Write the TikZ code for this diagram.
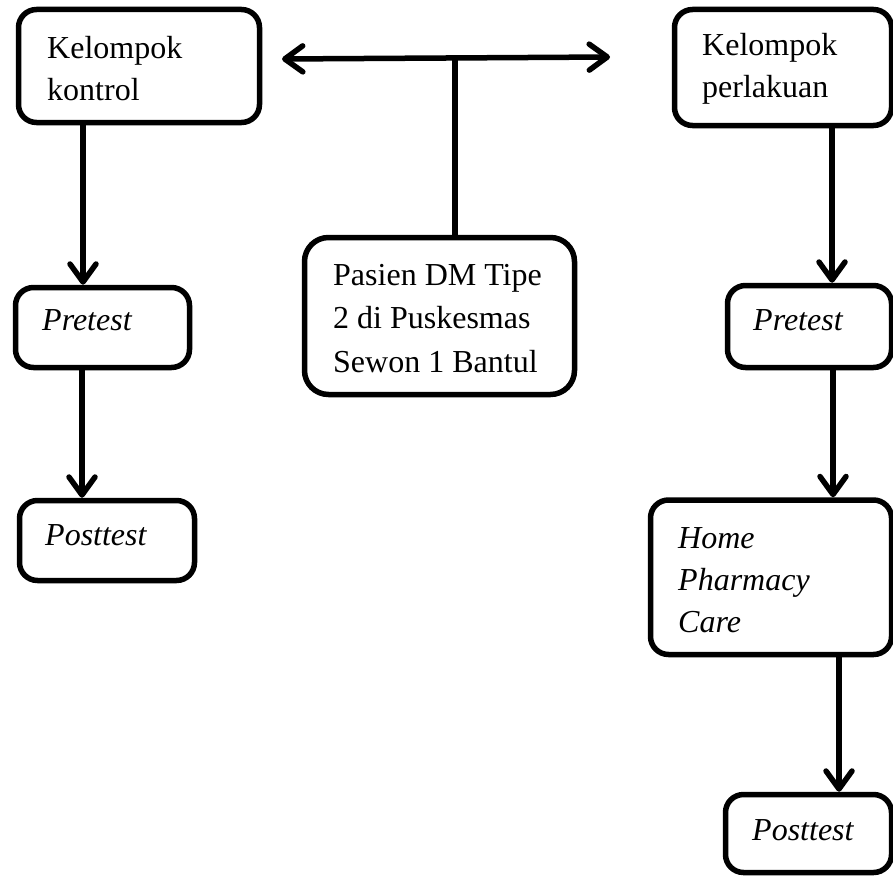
\documentclass[tikz,border=0pt]{standalone}
\usepackage{fontspec}
\setmainfont{Liberation Serif}
\usetikzlibrary{arrows.meta}
\begin{document}
\begin{tikzpicture}[x=1pt,y=-1pt,
  box/.style={draw=black, line width=5.5pt, rounded corners=18pt, inner sep=0pt, fill=white},
  txt/.style={inner sep=0pt, anchor=base west, align=left, font=\fontsize{32}{42}\selectfont},
  itxt/.style={txt, font=\fontsize{32}{42}\selectfont\itshape},
  tip/.style={Straight Barb[length=18pt,width=26pt,round]},
  arr/.style={line width=5.5pt, -{Straight Barb[length=18pt,width=26pt,round]}},
  dbl/.style={line width=5.5pt, {Straight Barb[length=18pt,width=26pt,round]}-{Straight Barb[length=18pt,width=26pt,round]}},
  conn/.style={line width=5.5pt}]
\useasboundingbox (0,0) rectangle (893,875);
\clip (0,0) rectangle (893,875);
% boxes
\node[box, minimum width=241pt, minimum height=113pt] (kk) at (139,66) {};
\node[box, minimum width=217pt, minimum height=116pt] (kp) at (783,67.5) {};
\node[box, minimum width=174pt, minimum height=80pt] (pl) at (102.5,327.5) {};
\node[box, minimum width=175pt, minimum height=80pt] (ql) at (107,540.5) {};
\node[box, minimum width=270pt, minimum height=157pt, rounded corners=24pt] (ps) at (439.5,316) {};
\node[box, minimum width=164pt, minimum height=82pt] (pr) at (809.5,326.5) {};
\node[box, minimum width=241pt, minimum height=154.5pt] (hp) at (771,577.25) {};
\node[box, minimum width=166pt, minimum height=78pt] (qr) at (808.5,833.5) {};
% texts (anchor = baseline of last line)
\node[txt] (t1) at (47,100) {Kelompok\\kontrol};
\node[txt] (t2) at (702,97) {Kelompok\\perlakuan};
\node[itxt] (t3) at (42,330) {Pretest};
\node[itxt] (t4) at (45,545) {Posttest};
\node[txt, font=\fontsize{32}{43.5}\selectfont] (t5) at (333,372) {Pasien DM Tipe\\2 di Puskesmas\\Sewon 1 Bantul};
\node[itxt] (t6) at (753,330) {Pretest};
\node[itxt] (t7) at (678,632) {Home\\Pharmacy\\Care};
\node[itxt] (t8) at (752,840) {Posttest};
% connectors
\coordinate (hl) at (282,59);
\coordinate (hr) at (610,57);
\coordinate (hm) at (455,58);
\draw[dbl] (hl) -- (hr);
\draw[conn] (455,0 |- ps.north) -- (hm);
\draw[arr] (83,0 |- kk.south) -- (83,0 |- pl.north);
\draw[arr] (82,0 |- pl.south) -- (82,0 |- ql.north);
\draw[arr] (832,0 |- kp.south) -- (832,0 |- pr.north);
\draw[arr] (833,0 |- pr.south) -- (833,0 |- hp.north);
\draw[arr] (839,0 |- hp.south) -- (839,0 |- qr.north);
\end{tikzpicture}
\end{document}
